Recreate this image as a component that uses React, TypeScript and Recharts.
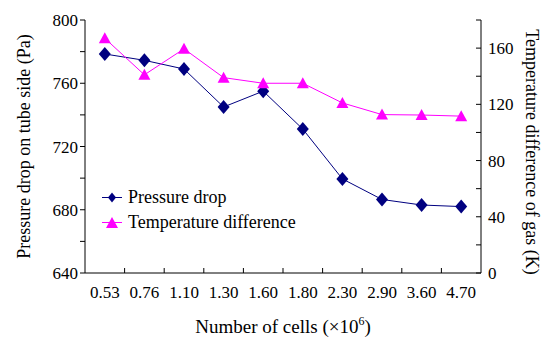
import { ComposedChart, Line, XAxis, YAxis, Legend } from "recharts";

const cells = ["0.53", "0.76", "1.10", "1.30", "1.60", "1.80", "2.30", "2.90", "3.60", "4.70"];
const pressureDrop = [778.5, 774.5, 769, 745, 755, 731, 699.5, 686.5, 683, 682];
const tempDiff = [167, 141, 159.5, 139, 135, 135, 121, 112.7, 112.4, 111.6];

const leftTicks = [640, 660, 680, 700, 720, 740, 760, 780, 800];
const rightTicks = [0, 20, 40, 60, 80, 100, 120, 140, 160, 180];

const NAVY = "#000080";
const MAGENTA = "#ff00ff";
const FONT = "'Liberation Serif', 'Times New Roman', serif";

const data = cells.map((c, i) => ({
  x: i + 0.5,
  cell: c,
  pressure: pressureDrop[i],
  temp: tempDiff[i],
}));

// label ticks at category centres, tick marks at category boundaries
const xTicks = [
  ...cells.map((_, i) => i + 0.5),
  ...cells.slice(1).map((_, i) => i + 1),
];

const diamond = (cx: number, cy: number, r = 6) =>
  `M${cx},${cy - r - 1}L${cx + r},${cy}L${cx},${cy + r + 1}L${cx - r},${cy}Z`;
const triangle = (cx: number, cy: number) =>
  `M${cx},${cy - 6}L${cx + 6},${cy + 5}L${cx - 6},${cy + 5}Z`;

const DiamondDot = (p: any) => (
  <path key={`d${p.index}`} d={diamond(p.cx, p.cy)} fill={NAVY} stroke="none" />
);
const TriangleDot = (p: any) => (
  <path key={`t${p.index}`} d={triangle(p.cx, p.cy)} fill={MAGENTA} stroke="none" />
);

const XTick = ({ x, y, payload }: any) => {
  const v = payload.value;
  if (Number.isInteger(v)) {
    return <line x1={x} x2={x} y1={y} y2={y - 5} stroke="#000" />;
  }
  return (
    <text x={x} y={y + 25} textAnchor="middle" fontSize={17} fontFamily={FONT} fill="#000">
      {cells[Math.floor(v)]}
    </text>
  );
};

const RightTick = ({ x, y, payload }: any) => (
  <g>
    <line x1={x} x2={x - 5} y1={y} y2={y} stroke="#000" />
    {payload.value % 40 === 0 && payload.value !== 180 && (
      <text x={x + 7} y={y + 6} textAnchor="start" fontSize={17} fontFamily={FONT} fill="#000">
        {payload.value}
      </text>
    )}
  </g>
);

const LegendContent = () => (
  <div style={{ fontFamily: FONT, fontSize: 18, color: "#000", lineHeight: "25px" }}>
    {[
      { name: "Pressure drop", color: NAVY, shape: diamond(10, 12.5, 4) },
      { name: "Temperature difference", color: MAGENTA, shape: triangle(10, 13) },
    ].map((it) => (
      <div key={it.name} style={{ display: "flex", alignItems: "center", whiteSpace: "nowrap" }}>
        <svg width={26} height={25}>
          <line x1={0} x2={20} y1={12.5} y2={12.5} stroke={it.color} />
          <path d={it.shape} fill={it.color} />
        </svg>
        <span>{it.name}</span>
      </div>
    ))}
  </div>
);

export default function App() {
  return (
    <div style={{ position: "absolute", left: 0, top: 0, width: 548, height: 338, background: "#fff" }}>
      <ComposedChart
        width={548}
        height={338}
        data={data}
        margin={{ top: 20, right: 0, bottom: 0, left: 0 }}
      >
        <XAxis
          dataKey="x"
          type="number"
          domain={[0, 10]}
          ticks={xTicks}
          interval={0}
          tickLine={false}
          tickSize={0}
          tickMargin={0}
          tick={<XTick />}
          axisLine={{ stroke: "#000" }}
          height={65}
          label={{
            content: ({ viewBox }: any) => (
              <text
                x={viewBox.x + viewBox.width / 2}
                y={333}
                textAnchor="middle"
                fontSize={19}
                fontFamily={FONT}
                fill="#000"
              >
                Number of cells (×10
                <tspan dy={-8} fontSize={12}>6</tspan>
                <tspan dy={8}>)</tspan>
              </text>
            ),
          }}
        />
        <YAxis
          yAxisId="left"
          domain={[640, 800]}
          ticks={leftTicks}
          interval={0}
          width={85}
          tickSize={5}
          tickMargin={2}
          tickFormatter={(v: number) => (v % 40 === 0 ? String(v) : "")}
          tick={{ fill: "#000", fontSize: 17, fontFamily: FONT }}
          tickLine={{ stroke: "#000" }}
          axisLine={{ stroke: "#000" }}
          label={{
            content: ({ viewBox }: any) => {
              const cx = 24;
              const cy = viewBox.y + viewBox.height / 2;
              return (
                <text
                  x={cx}
                  y={cy}
                  transform={`rotate(-90 ${cx} ${cy})`}
                  textAnchor="middle"
                  dominantBaseline="central"
                  fontSize={18}
                  fontFamily={FONT}
                  fill="#000"
                >
                  Pressure drop on tube side (Pa)
                </text>
              );
            },
          }}
        />
        <YAxis
          yAxisId="right"
          orientation="right"
          domain={[0, 180]}
          ticks={rightTicks}
          interval={0}
          width={67}
          tickSize={0}
          tickMargin={0}
          tickLine={false}
          tick={<RightTick />}
          axisLine={{ stroke: "#000" }}
          label={{
            content: ({ viewBox }: any) => {
              const cx = viewBox.x + 51;
              const cy = 152;
              return (
                <text
                  x={cx}
                  y={cy}
                  transform={`rotate(90 ${cx} ${cy})`}
                  textAnchor="middle"
                  dominantBaseline="central"
                  fontSize={18}
                  fontFamily={FONT}
                  fill="#000"
                >
                  Temperature difference of gas (K)
                </text>
              );
            },
          }}
        />
        <Legend
          layout="vertical"
          align="center"
          verticalAlign="middle"
          content={<LegendContent />}
          wrapperStyle={{ left: 102, top: 185, width: "auto", height: "auto" }}
        />
        <Line
          yAxisId="left"
          dataKey="pressure"
          stroke={NAVY}
          strokeWidth={1}
          dot={DiamondDot}
          activeDot={false}
          isAnimationActive={false}
        />
        <Line
          yAxisId="right"
          dataKey="temp"
          stroke={MAGENTA}
          strokeWidth={1}
          dot={TriangleDot}
          activeDot={false}
          isAnimationActive={false}
        />
      </ComposedChart>
    </div>
  );
}
